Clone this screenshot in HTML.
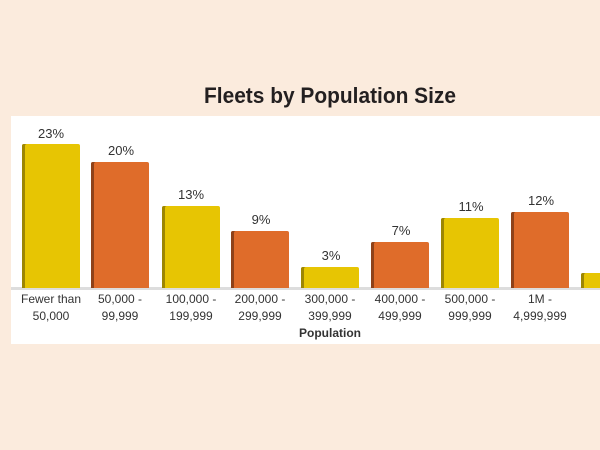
<!DOCTYPE html>
<html><head><style>
body{margin:0;width:600px;height:450px;background:#fbebdd;position:relative;overflow:hidden;font-family:"Liberation Sans Narrow","Liberation Sans",sans-serif}
.t{position:absolute;top:83px;left:0;width:660px;text-align:center;font-weight:bold;font-size:22px;color:#231f20;transform:scaleX(0.95);transform-origin:330px 0}
.p{position:absolute;left:11px;top:116px;width:600px;height:228px;background:#fff}
.b{position:absolute;width:58px;border-radius:2px 2px 0 0}
.y{background:#e7c503;box-shadow:inset 3px 0 0 #9d8603}
.o{background:#df6c2a;box-shadow:inset 3px 0 0 #8f4219}
.v{position:absolute;width:70px;text-align:center;font-size:13px;color:#333}
.l{position:absolute;width:80px;text-align:center;font-size:12px;line-height:17px;color:#333;top:291px}
.base{position:absolute;left:11px;top:287px;width:600px;height:3px;background:#ddd}
</style></head><body>
<div class="t">Fleets by Population Size</div>
<div class="p"></div>
<div class="base"></div>
<div class="b y" style="left:22px;top:144px;height:144px"></div>
<div class="b o" style="left:91px;top:162px;height:126px"></div>
<div class="b y" style="left:162px;top:206px;height:82px"></div>
<div class="b o" style="left:231px;top:231px;height:57px"></div>
<div class="b y" style="left:301px;top:267px;height:21px"></div>
<div class="b o" style="left:371px;top:242px;height:46px"></div>
<div class="b y" style="left:441px;top:218px;height:70px"></div>
<div class="b o" style="left:511px;top:212px;height:76px"></div>
<div class="b y" style="left:581px;top:273px;height:15px"></div>
<div class="v" style="left:16px;top:126px">23%</div>
<div class="v" style="left:86px;top:143px">20%</div>
<div class="v" style="left:156px;top:187px">13%</div>
<div class="v" style="left:226px;top:212px">9%</div>
<div class="v" style="left:296px;top:248px">3%</div>
<div class="v" style="left:366px;top:223px">7%</div>
<div class="v" style="left:436px;top:199px">11%</div>
<div class="v" style="left:506px;top:193px">12%</div>
<div class="l" style="left:11px">Fewer than<br>50,000</div>
<div class="l" style="left:80px">50,000 -<br>99,999</div>
<div class="l" style="left:151px">100,000 -<br>199,999</div>
<div class="l" style="left:220px">200,000 -<br>299,999</div>
<div class="l" style="left:290px">300,000 -<br>399,999<br><b>Population</b></div>
<div class="l" style="left:360px">400,000 -<br>499,999</div>
<div class="l" style="left:430px">500,000 -<br>999,999</div>
<div class="l" style="left:500px">1M -<br>4,999,999</div>
<div class="l" style="left:570px"><br>or</div>
</body></html>
